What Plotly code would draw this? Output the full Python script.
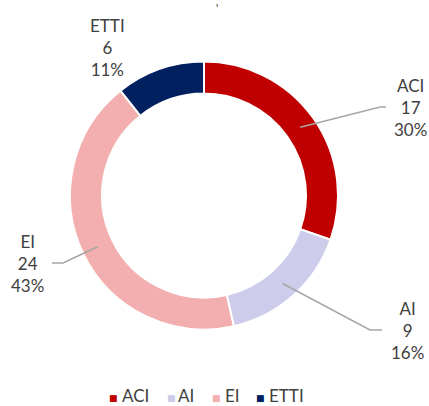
import math
import plotly.graph_objects as go

categories = ["ACI", "AI", "EI", "ETTI"]
values = [17, 9, 24, 6]
colors = ["#C00000", "#CDCDEB", "#F3AFAF", "#002060"]

W, H = 429, 406
FONT = "Lato"
TXT = "#404040"

# layout geometry (pixels)
cx, cy, R_out, R_in = 204, 195.5, 134, 102
label_pos = {"ACI": (410, 107), "AI": (407, 330), "EI": (27, 263), "ETTI": (107, 47)}
leader = {"ACI": [(380, 107), (386, 107)],
          "AI": [(370, 330), (382, 330)],
          "EI": [(63, 263), (52, 263)],
          "ETTI": None}
legend_marker_x = {"ACI": 113, "AI": 171, "EI": 216, "ETTI": 260}
legend_text_x = {"ACI": 121, "AI": 177, "EI": 224, "ETTI": 268}
legend_y = 395.5


def px(x):
    return x / W


def py(y):
    return 1 - y / H


fig = go.Figure()
fig.add_trace(go.Pie(
    labels=categories, values=values, sort=False, direction="clockwise",
    rotation=0, hole=R_in / R_out, textinfo="none", showlegend=False,
    marker=dict(colors=colors, line=dict(color="white", width=2)),
    domain=dict(x=[px(cx - R_out), px(cx + R_out)], y=[py(cy + R_out), py(cy - R_out)]),
))

total = sum(values)
annotations = []
shapes = []
cum = 0
r_mid = (R_out + R_in) / 2
for cat, v, col in zip(categories, values, colors):
    mid = (cum + v / 2) / total * 2 * math.pi
    cum += v
    pct = round(v / total * 100)
    lx, ly = label_pos[cat]
    annotations.append(dict(x=px(lx), y=py(ly), xref="paper", yref="paper",
                            text=f"{cat}<br>{v}<br>{pct}%", showarrow=False,
                            xanchor="center", yanchor="middle", align="center",
                            font=dict(family=FONT, size=17, color=TXT)))
    if leader[cat]:
        sx = cx + r_mid * math.sin(mid)
        sy = cy - r_mid * math.cos(mid)
        pts = [(sx, sy)] + leader[cat]
        path = "M " + " L ".join(f"{px(a)},{py(b)}" for a, b in pts)
        shapes.append(dict(type="path", path=path, xref="paper", yref="paper",
                           line=dict(color="#A6A6A6", width=1.5)))
    # legend entry: marker + text
    annotations.append(dict(x=px(legend_marker_x[cat]), y=py(legend_y + 2), xref="paper", yref="paper",
                            text="■", showarrow=False, xanchor="center", yanchor="middle",
                            borderpad=0,
                            font=dict(family="DejaVu Sans", size=9, color=col)))
    annotations.append(dict(x=px(legend_text_x[cat]), y=py(legend_y), xref="paper", yref="paper",
                            text=cat, showarrow=False, xanchor="left", yanchor="middle",
                            borderpad=0,
                            font=dict(family=FONT, size=17, color=TXT)))

annotations.append(dict(x=px(217), y=py(7), xref="paper", yref="paper", text="'",
                        showarrow=False, xanchor="center", yanchor="middle",
                        font=dict(family=FONT, size=11, color="#202020")))

fig.update_layout(width=W, height=H, margin=dict(l=0, r=0, t=0, b=0),
                  paper_bgcolor="white", plot_bgcolor="white",
                  annotations=annotations, shapes=shapes, showlegend=False,
                  font=dict(family=FONT, color=TXT))
fig.write_html("out.html", config={"displayModeBar": False},
               post_script="document.body.style.margin='0';document.body.style.overflow='hidden';")
